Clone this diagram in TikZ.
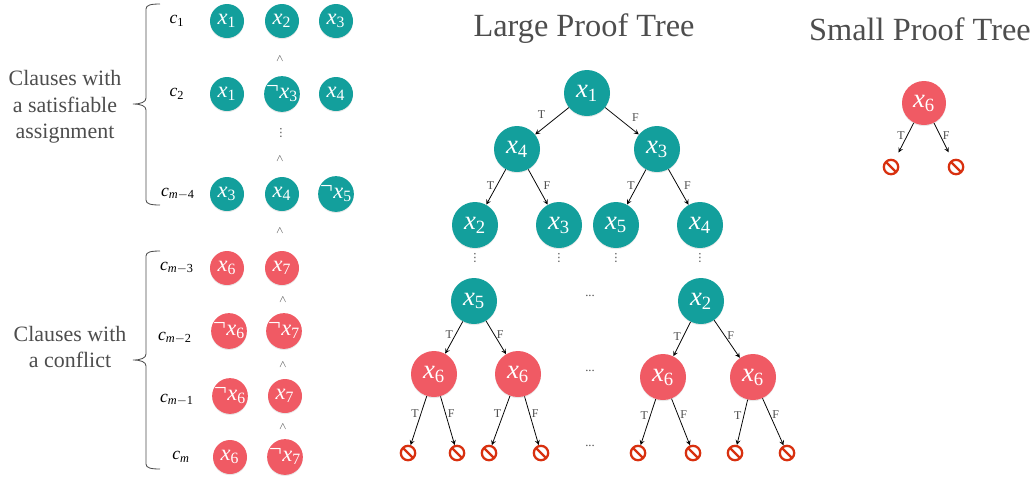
\documentclass[tikz,border=0pt]{standalone}
\usepackage{amsmath}
\usepackage{fontspec}
\setmainfont{Liberation Serif}
\newfontfamily\dotsfont{DejaVu Sans}
\usetikzlibrary{shadows}

\definecolor{tealfill}{HTML}{139F9C}
\definecolor{redfill}{HTML}{F05A64}
\definecolor{stopred}{HTML}{D8300F}
\definecolor{softgray}{HTML}{4D4D4D}

\newcommand{\xv}[1]{$\textit{x}_{\textrm{#1}}$}
\newcommand{\nxv}[1]{\raisebox{.18em}{\raisebox{.2em}{\textrm{¬}}\kern.02em$\textit{x}_{\textrm{#1}}$}}
\newcommand{\cv}[1]{$\textit{c}_{#1}$}

\tikzset{
  lit/.style={circle, text=white, inner sep=0pt, minimum size=.85cm, font=\fontsize{16}{18}\selectfont,
    drop shadow={opacity=.18, shadow xshift=0pt, shadow yshift=-.8pt}},
  tealsmall/.style={lit, fill=tealfill},
  redsmall/.style={lit, fill=redfill},
  tealbig/.style={tealsmall, minimum size=1.15cm, font=\fontsize{19}{22}\selectfont},
  redbig/.style={redsmall, minimum size=1.15cm, font=\fontsize{19}{22}\selectfont},
  cname/.style={font=\fontsize{12.5}{14}\selectfont},
  sidetext/.style={align=center, text=softgray, font=\fontsize{15.6}{19}\selectfont},
  titletext/.style={text=softgray, font=\fontsize{23}{27}\selectfont},
  andsign/.style={text=softgray, font=\fontsize{7}{9}\selectfont},
  dotstext/.style={text=softgray, font=\dotsfont\fontsize{8}{10}\selectfont},
  hdots/.style={text=softgray, font=\fontsize{9}{10}\selectfont},
  branch/.style={text=softgray, inner sep=1.5pt, font=\fontsize{8.5}{10}\selectfont},
  arc/.style={-stealth, line width=.55pt},
  stopsign/.style={circle, draw=stopred, line width=1.6pt, fill=white, inner sep=0pt, minimum size=.36cm,
    path picture={\draw[stopred, line width=1.6pt] (path picture bounding box.north west) -- (path picture bounding box.south east);}},
  sidebrace/.style={line width=.6pt, draw=softgray}
}

\begin{document}
\begin{tikzpicture}[x=.25mm, y=-.25mm]
      \useasboundingbox (0, 0) rectangle (1036, 476);

      % clauses, satisfiable part
      \node[sidetext] (sattext) at(65, 107){Clauses with\\a satisfiable\\assignment};
      \draw[sidebrace] (160, 4) .. controls (151, 4) and (146, 5) .. (146, 9) -- (146, 98)
        .. controls (146, 102) and (141, 104) .. (133, 104)
        .. controls (141, 104) and (146, 106) .. (146, 110) -- (146, 200)
        .. controls (146, 204) and (151, 205) .. (160, 205);

      \node[cname] (c1) at(177, 21){\cv{\textrm{1}}};
      \node[tealsmall] (c1a) at(227, 21){\xv{1}};
      \node[tealsmall] (c1b) at(282, 21){\xv{2}};
      \node[tealsmall] (c1c) at(336, 21){\xv{3}};
      \node[andsign] (and1) at(280, 59){$\wedge$};

      \node[cname] (c2) at(177, 94){\cv{\textrm{2}}};
      \node[tealsmall] (c2a) at(227, 94){\xv{1}};
      \node[tealsmall] (c2b) at(282, 94){\nxv{3}};
      \node[tealsmall] (c2c) at(336, 94){\xv{4}};
      \node[dotstext] (vdots1) at(281, 133){⋮};
      \node[andsign] (and2) at(280, 159){$\wedge$};

      \node[cname] (c3) at(178, 194){\cv{\textit{m}-\textrm{4}}};
      \node[tealsmall] (c3a) at(227, 194){\xv{3}};
      \node[tealsmall] (c3b) at(282, 194){\xv{4}};
      \node[tealsmall] (c3c) at(336, 194){\nxv{5}};
      \node[andsign] (and3) at(280, 231){$\wedge$};

      % clauses, conflict part
      \node[sidetext] (context) at(70, 347){Clauses with\\a conflict};
      \draw[sidebrace] (160, 251) .. controls (151, 251) and (146, 252) .. (146, 256) -- (146, 354)
        .. controls (146, 358) and (141, 360) .. (133, 360)
        .. controls (141, 360) and (146, 362) .. (146, 366) -- (146, 464)
        .. controls (146, 468) and (151, 469) .. (160, 469);

      \node[cname] (c4) at(177, 268){\cv{\textit{m}-\textrm{3}}};
      \node[redsmall] (c4a) at(227, 268){\xv{6}};
      \node[redsmall] (c4b) at(282, 268){\xv{7}};
      \node[andsign] (and4) at(283, 300){$\wedge$};

      \node[cname] (c5) at(175, 338){\cv{\textit{m}-\textrm{2}}};
      \node[redsmall] (c5a) at(229, 331){\nxv{6}};
      \node[redsmall] (c5b) at(284, 331){\nxv{7}};
      \node[andsign] (and5) at(283, 365){$\wedge$};

      \node[cname] (c6) at(177, 400){\cv{\textit{m}-\textrm{1}}};
      \node[redsmall] (c6a) at(230, 396){\nxv{6}};
      \node[redsmall] (c6b) at(285, 396){\xv{7}};
      \node[andsign] (and6) at(283, 427){$\wedge$};

      \node[cname] (c7) at(181, 457){\cv{\textit{m}}};
      \node[redsmall] (c7a) at(230, 457){\xv{6}};
      \node[redsmall] (c7b) at(285, 457){\nxv{7}};

      % large tree
      \node[titletext] (largetitle) at(584, 29){Large Proof Tree};

      \node[tealbig] (root) at(587, 93){\xv{1}};
      \node[tealbig] (l) at(517, 149){\xv{4}};
      \node[tealbig] (r) at(657, 149){\xv{3}};
      \node[tealbig] (ll) at(475, 225){\xv{2}};
      \node[tealbig] (lr) at(559, 225){\xv{3}};
      \node[tealbig] (rl) at(616, 225){\xv{5}};
      \node[tealbig] (rr) at(700, 225){\xv{4}};

      \draw[arc] (root) -- node[branch, above left, pos=.5, xshift=-3pt]{T} (l);
      \draw[arc] (root) -- node[branch, above right, pos=.6, xshift=3pt]{F} (r);
      \draw[arc] (l) -- node[branch, left, pos=.47]{T} (ll);
      \draw[arc] (l) -- node[branch, right, pos=.45, xshift=3pt]{F} (lr);
      \draw[arc] (r) -- node[branch, left, pos=.47]{T} (rl);
      \draw[arc] (r) -- node[branch, right, pos=.45, xshift=3pt]{F} (rr);

      \node[dotstext] (vdots2) at(475, 258){⋮};
      \node[dotstext] (vdots3) at(559, 258){⋮};
      \node[dotstext] (vdots4) at(616, 258){⋮};
      \node[dotstext] (vdots5) at(700, 258){⋮};
      \node[hdots] (dots1) at(590, 296){...};
      \node[hdots] (dots2) at(590, 371){...};
      \node[hdots] (dots3) at(590, 446){...};

      \node[tealbig] (p) at(474, 301){\xv{5}};
      \node[tealbig] (q) at(701, 301){\xv{2}};
      \node[redbig] (pl) at(434, 374){\xv{6}};
      \node[redbig] (pr) at(518, 374){\xv{6}};
      \node[redbig] (ql) at(663, 377){\xv{6}};
      \node[redbig] (qr) at(753, 377){\xv{6}};

      \draw[arc] (p) -- node[branch, left, pos=.42]{T} (pl);
      \draw[arc] (p) -- node[branch, right, pos=.42]{F} (pr);
      \draw[arc] (q) -- node[branch, left, pos=.42]{T} (ql);
      \draw[arc] (q) -- node[branch, right, pos=.42]{F} (qr);

      \node[stopsign] (s1) at(408, 453){};
      \node[stopsign] (s2) at(457, 453){};
      \node[stopsign] (s3) at(489, 453){};
      \node[stopsign] (s4) at(541, 453){};
      \node[stopsign] (s5) at(638, 453){};
      \node[stopsign] (s6) at(693, 453){};
      \node[stopsign] (s7) at(735, 453){};
      \node[stopsign] (s8) at(787, 453){};

      \draw[arc] (pl) -- node[branch, left, pos=.35]{T} (s1);
      \draw[arc] (pl) -- node[branch, right, pos=.35]{F} (s2);
      \draw[arc] (pr) -- node[branch, left, pos=.35]{T} (s3);
      \draw[arc] (pr) -- node[branch, right, pos=.35]{F} (s4);
      \draw[arc] (ql) -- node[branch, left, pos=.35]{T} (s5);
      \draw[arc] (ql) -- node[branch, right, pos=.35]{F} (s6);
      \draw[arc] (qr) -- node[branch, left, pos=.35]{T} (s7);
      \draw[arc] (qr) -- node[branch, right, pos=.35]{F} (s8);

      % small tree
      \node[titletext] (smalltitle) at(920, 29){Small Proof Tree};

      \node[redbig, minimum size=1.1cm] (sroot) at(924, 103){\xv{6}};
      \node[stopsign] (t1) at(891, 167){};
      \node[stopsign] (t2) at(956, 167){};

      \draw[arc, shorten >=.2cm] (sroot) -- node[branch, left, pos=.35]{T} (t1);
      \draw[arc, shorten >=.2cm] (sroot) -- node[branch, right, pos=.35]{F} (t2);
\end{tikzpicture}
\end{document}
